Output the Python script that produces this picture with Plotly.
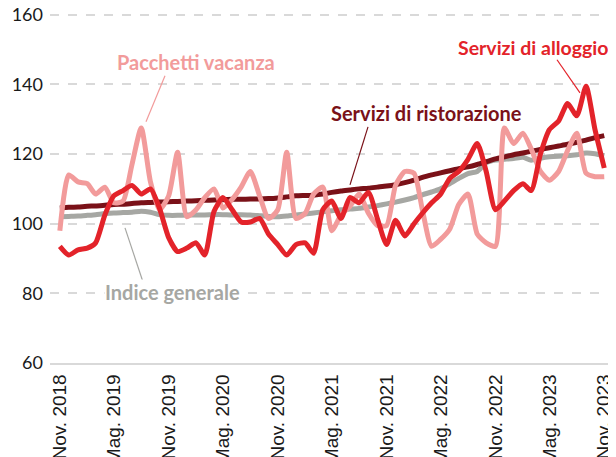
import plotly.graph_objects as go
import pandas as pd

months = pd.date_range("2018-11-01", "2023-11-01", freq="MS")

alloggio = [93.5, 91, 92.5, 93, 94.5, 102.5, 108, 109.5, 111, 108.5,
            110, 104.5, 96, 92, 93, 94.5, 91, 103.5, 107.5, 104,
            100.5, 100.5, 101.5, 97, 94, 91, 94, 94.5, 91.5, 104,
            106.5, 101.5, 107.5, 106, 109, 101.5, 94, 101, 96.5, 100,
            103, 106, 108.5, 113, 115, 118.5, 123, 115, 104, 106.5,
            109.5, 111.5, 109.5, 120, 127, 129.5, 134.5, 131, 139.5, 127,
            116]
pacchetti = [98, 114, 112, 111.5, 108.5, 110.5, 106, 106.5, 117, 127.5,
             112, 104, 108, 120.5, 102, 104, 107.5, 110, 104.5, 107,
             110.5, 115, 108, 101.5, 104, 120.5, 101.5, 103, 108.5, 110.5,
             98, 102.5, 105, 108.5, 103, 99.5, 99.5, 111, 115, 114.5,
             104, 93.5, 95.5, 98.5, 105.5, 108.5, 97, 94.5, 93.5, 127.5,
             123, 126, 121.5, 115, 112.5, 115, 121, 126, 114.5, 113.5,
             113.5]
ristorazione = [104.5, 104.7, 104.8, 105, 105.1, 105.3, 105.5, 105.6, 105.8, 106,
                106.1, 106.2, 106.3, 106.4, 106.5, 106.6, 106.7, 106.8, 106.9, 107,
                107, 107.1, 107.1, 107.2, 107.4, 107.7, 108, 108.1, 108.2, 108.5,
                109, 109.4, 109.7, 110, 110.2, 110.5, 110.8, 111.2, 111.8, 112.5,
                113.3, 114, 114.6, 115.2, 115.8, 116.3, 117, 117.8, 118.6, 119.2,
                119.8, 120.3, 120.8, 121.3, 121.8, 122.3, 122.8, 123.4, 124, 124.7,
                125.3]
indice = [102, 102.1, 102.2, 102.4, 102.6, 102.9, 103.1, 103.2, 103.3, 103.6,
          103.3, 102.6, 102.4, 102.4, 102.5, 102.5, 102.5, 102.6, 102.6, 102.5,
          102.6, 102.5, 102.3, 102.1, 102.0, 102.2, 102.5, 102.8, 103.1, 103.4,
          103.7, 104.0, 104.2, 104.4, 104.8, 105.2, 105.7, 106.2, 106.8, 107.5,
          108.3, 109.1, 110, 111.5, 113, 114.4, 115, 117.5, 118.3, 118.5,
          118.7, 119.1, 118.2, 118.8, 119.2, 119.4, 119.5, 119.8, 120.3, 120.1,
          119.5]

tick_dates = months[::6]
tick_labels = ["Nov. 2018", "Mag. 2019", "Nov. 2019", "Mag. 2020", "Nov. 2020",
               "Mag. 2021", "Nov. 2021", "Mag. 2022", "Nov. 2022", "Mag. 2023",
               "Nov. 2023"]
y_ticks = [60, 80, 100, 120, 140, 160]

C_ALL = "#E3232A"
C_PAC = "#F29B9B"
C_RIS = "#7A1118"
C_IND = "#A6A7A3"

fig = go.Figure()
for y, c in [(indice, C_IND), (ristorazione, C_RIS), (pacchetti, C_PAC), (alloggio, C_ALL)]:
    fig.add_trace(go.Scatter(x=months, y=y, mode="lines",
                             line=dict(color=c, width=5, shape="spline", smoothing=0.6),
                             showlegend=False, hoverinfo="skip"))

# page body has an 8px default margin; the figure is laid out to compensate
OFF = 8
W, H = 616 - OFF, 457 - OFF
L = 50 - OFF
R = W - (612 - OFF)
B = H - (363 - OFF)
YMAX = 160.5
T = (363 - 348 * (YMAX - 60) / 100) - OFF
pw, ph = W - L - R, H - T - B

def px(x):
    return (x - OFF - L) / pw

def py(y):
    return (H - B - (y - OFF)) / ph

shapes = []
annos = []
def label(text, cx, cy, color, line, bg=False, size=20):
    annos.append(dict(text="<b>%s</b>" % text, x=px(cx), y=py(cy), xref="paper", yref="paper",
                      showarrow=False, xanchor="center", yanchor="middle",
                      font=dict(family="Lato", size=size, color=color),
                      bgcolor="white" if bg else None, borderpad=0))
    (x0, y0), (x1, y1) = line
    shapes.append(dict(type="line", xref="paper", yref="paper",
                       x0=px(x0), y0=py(y0), x1=px(x1), y1=py(y1),
                       line=dict(color=color, width=1.2)))

label("Pacchetti vacanza", 196, 62, C_PAC, ((165, 76), (146, 122)))
label("Servizi di alloggio", 533, 48, C_ALL, ((557, 60), (580, 93)), size=19.5)
label("Servizi di ristorazione", 426, 113, C_RIS, ((368, 127), (350, 185)))
label("Indice generale", 172, 292, C_IND, ((125, 228), (143, 282)), bg=True)

fig.update_layout(
    width=W, height=H,
    margin=dict(l=L, r=R, t=T, b=B, pad=0, autoexpand=False),
    plot_bgcolor="white", paper_bgcolor="white",
    shapes=shapes, annotations=annos,
    xaxis=dict(range=["2018-09-29", "2023-11-27"], tickvals=tick_dates, ticktext=tick_labels,
               tickangle=-90, showgrid=False, zeroline=False, automargin=False,
               showline=True, linecolor="#D9D9D9", linewidth=1.5,
               tickfont=dict(family="Liberation Sans", size=19, color="#1a1a1a"),
               ticks="", ticklabelstandoff=2, ticklabeloverflow="allow"),
    yaxis=dict(range=[60, YMAX], tickvals=y_ticks,
               showgrid=True, gridcolor="#D9D9D9", griddash="dash", gridwidth=1.5,
               zeroline=False, showline=False, ticks="", automargin=False,
               tickfont=dict(family="Lato", size=18, color="#1a1a1a"),
               ticklabelstandoff=6, ticklabeloverflow="allow"),
)

fig.write_html("out.html")
